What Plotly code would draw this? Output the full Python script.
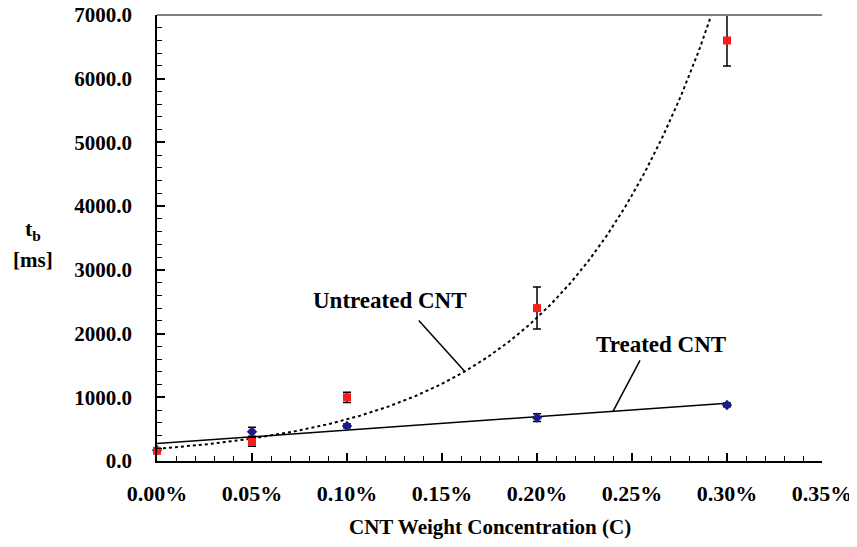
import numpy as np
import plotly.graph_objects as go

# CNT weight concentration (fraction, shown as %)
conc = [0.0, 0.0005, 0.0010, 0.0020, 0.0030]

# untreated CNT: t_b [ms] and error
untreated = [160, 300, 1000, 2400, 6600]
untreated_err = [40, 70, 80, 330, 400]

# treated CNT
treated = [170, 460, 550, 680, 880]
treated_err = [30, 70, 30, 60, 30]

x = np.array(conc)

# exponential trend for untreated, linear trend for treated
b, lna = np.polyfit(x, np.log(untreated), 1)
m, c = np.polyfit(x, treated, 1)
xf = np.linspace(0, 0.0032, 300)
yexp = np.exp(lna) * np.exp(b * xf)
xl = np.linspace(0, 0.0030, 50)
ylin = m * xl + c

font = "Liberation Serif"

fig = go.Figure()
fig.add_trace(go.Scatter(x=xf, y=yexp, mode="lines",
                         line=dict(color="black", width=2, dash="dot")))
fig.add_trace(go.Scatter(x=xl, y=ylin, mode="lines",
                         line=dict(color="black", width=1.5)))
fig.add_trace(go.Scatter(x=conc, y=treated, mode="markers", cliponaxis=False,
                         marker=dict(symbol="diamond", size=8, color="#1a1a8c"),
                         error_y=dict(type="data", array=treated_err, color="black",
                                      thickness=1.5, width=4)))
fig.add_trace(go.Scatter(x=conc, y=untreated, mode="markers", cliponaxis=False,
                         marker=dict(symbol="square", size=8, color="#ff1a1a"),
                         error_y=dict(type="data", array=untreated_err, color="black",
                                      thickness=1.5, width=4)))

fig.update_layout(
    width=857, height=547,
    margin=dict(l=149, r=43, t=7, b=94),
    plot_bgcolor="white", paper_bgcolor="white",
    showlegend=False,
    font=dict(family=font, color="black"),
)
fig.update_xaxes(range=[0, 0.0035], dtick=0.0005, tickformat=".2%",
                 automargin=False, showgrid=False, zeroline=False,
                 showline=True, linecolor="black", linewidth=1.5,
                 ticks="inside", ticklen=8, tickcolor="black", tickwidth=1.5,
                 minor=dict(dtick=0.0001, ticks="inside", ticklen=5,
                            tickcolor="black", tickwidth=1.2),
                 ticklabelstandoff=12, ticklabeloverflow="allow",
                 tickfont=dict(size=22, family=font, weight="bold"))
fig.update_yaxes(range=[0, 7000], dtick=1000, tickformat=".1f",
                 automargin=False, showgrid=False, zeroline=False,
                 showline=True, linecolor="black", linewidth=1.5,
                 ticks="inside", ticklen=8, tickcolor="black", tickwidth=1.5,
                 minor=dict(dtick=200, ticks="inside", ticklen=5,
                            tickcolor="black", tickwidth=1.2),
                 ticklabelstandoff=19, ticklabeloverflow="allow",
                 tickfont=dict(size=21, family=font, weight="bold"))

# top border
fig.add_shape(type="line", xref="paper", yref="paper", x0=0, x1=1, y0=1, y1=1,
              line=dict(color="#808080", width=2))

# axis titles
fig.add_annotation(text="<b>CNT Weight Concentration (C)</b>", xref="paper", yref="paper",
                   x=0.5, y=0, yshift=-66, showarrow=False, yanchor="middle",
                   font=dict(size=21, family=font))
fig.add_annotation(text="<b>t<sub>b</sub></b>", xref="paper", yref="paper",
                   x=0, xshift=-124, y=(453 - 222) / 446, showarrow=False,
                   xanchor="center", yanchor="middle",
                   font=dict(size=22, family=font))
fig.add_annotation(text="<b>[ms]</b>", xref="paper", yref="paper",
                   x=0, xshift=-124, y=(453 - 252) / 446, showarrow=False,
                   xanchor="center", yanchor="middle",
                   font=dict(size=21, family=font))

# curve labels with leader lines
xu = 0.00162
yu = np.exp(lna) * np.exp(b * xu)
fig.add_shape(type="line", xref="x", yref="y", xsizemode="pixel", ysizemode="pixel",
              xanchor=xu, yanchor=yu, x0=0, y0=0, x1=-46, y1=51,
              line=dict(color="black", width=1.5))
fig.add_annotation(x=xu, y=yu, text="<b>Untreated CNT</b>", showarrow=False,
                   xshift=-75, yshift=71, font=dict(size=23, family=font))
xt = 0.0024
yt = m * xt + c
fig.add_shape(type="line", xref="x", yref="y", xsizemode="pixel", ysizemode="pixel",
              xanchor=xt, yanchor=yt, x0=0, y0=0, x1=27, y1=51,
              line=dict(color="black", width=1.5))
fig.add_annotation(x=xt, y=yt, text="<b>Treated CNT</b>", showarrow=False,
                   xshift=48, yshift=67, font=dict(size=23, family=font))

fig.write_html("out.html")
